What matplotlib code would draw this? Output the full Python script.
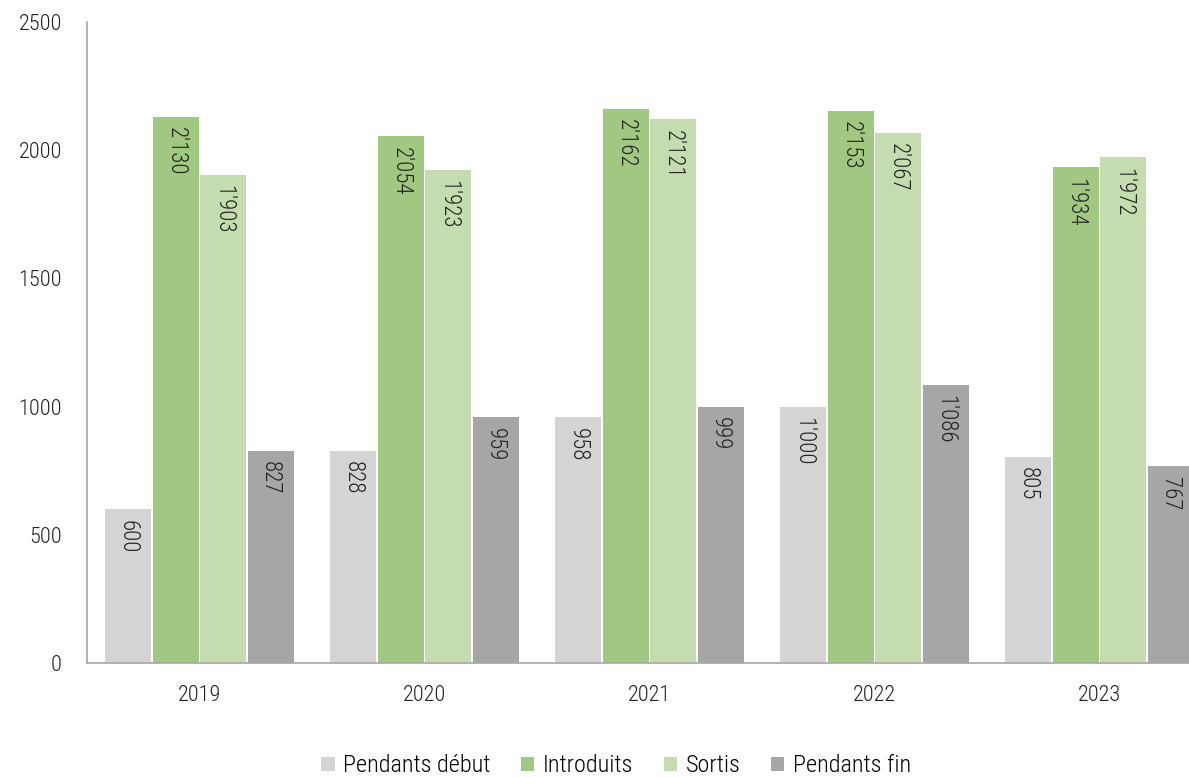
import matplotlib.pyplot as plt
import numpy as np
from matplotlib import font_manager

names = {f.name for f in font_manager.fontManager.ttflist}
fam = "Roboto Condensed" if "Roboto Condensed" in names else "Roboto"
plt.rcParams['font.family'] = [fam, 'DejaVu Sans']
plt.rcParams['font.weight'] = 'light'

years = ["2019", "2020", "2021", "2022", "2023"]
series = ["Pendants début", "Introduits", "Sortis", "Pendants fin"]
pendants_debut = [600, 828, 958, 1000, 805]
introduits = [2130, 2054, 2162, 2153, 1934]
sortis = [1903, 1923, 2121, 2067, 1972]
pendants_fin = [827, 959, 999, 1086, 767]
colors = ["#d4d4d4", "#a0c883", "#c5dcb0", "#a6a6a6"]


def fmt(v):
    return f"{v:,}".replace(",", "'")


fig = plt.figure(figsize=(11.89, 7.77), dpi=100)
ax = fig.add_axes([87 / 1189, 114 / 777, 1125 / 1189, 641 / 777])

x = np.arange(len(years))
slot = 0.211
width = 0.205
for i, (name, vals) in enumerate(zip(series, [pendants_debut, introduits, sortis, pendants_fin])):
    pos = x + (i - 1.5) * slot
    ax.bar(pos, vals, width, color=colors[i], label=name)
    for p, v in zip(pos, vals):
        ax.annotate(fmt(v), (p, v), xytext=(0, -7.5), textcoords="offset points",
                    rotation=270, ha="center", va="top", fontsize=16.5, color="#222222")

ax.set_xlim(-0.5, 4.5)
ax.set_ylim(0, 2500)
ax.set_yticks([0, 500, 1000, 1500, 2000, 2500])
ax.set_xticks(x)
ax.set_xticklabels(years)
ax.tick_params(axis="both", length=0, labelsize=16, colors="#222222")
ax.tick_params(axis="y", pad=18)
ax.tick_params(axis="x", pad=16)
for s in ["top", "right"]:
    ax.spines[s].set_visible(False)
ax.spines["left"].set_color("#a6a6a6")
ax.spines["bottom"].set_color("#a6a6a6")
ax.spines["left"].set_linewidth(1.2)
ax.spines["bottom"].set_linewidth(1.2)

fig.legend(loc="center", bbox_to_anchor=(616 / 1189, 11 / 777), ncol=4, frameon=False,
           fontsize=17.5, handlelength=0.55, handleheight=0.55, handletextpad=0.35,
           columnspacing=1.25)

fig.savefig("out.png", dpi=100)
